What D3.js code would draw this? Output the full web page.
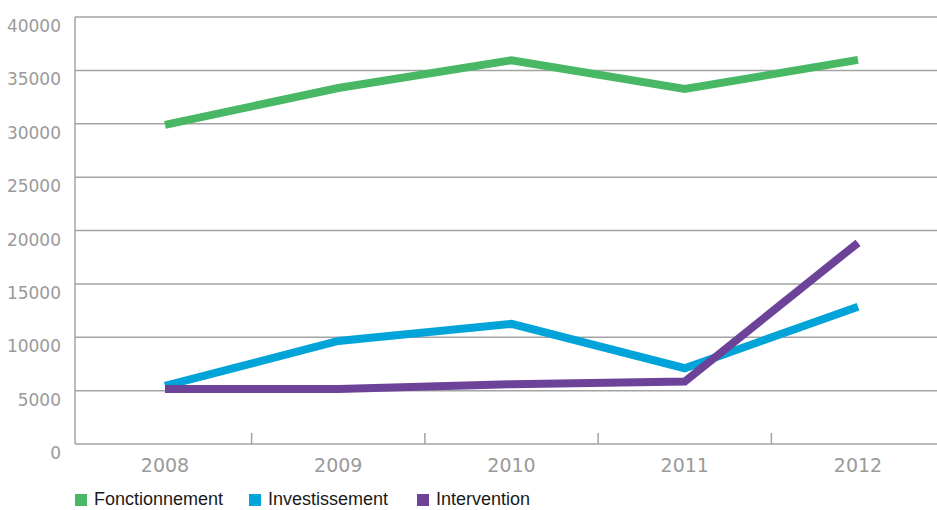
<!DOCTYPE html>
<html><head><meta charset="utf-8">
<script src="https://cdn.jsdelivr.net/npm/d3@7"></script>
<style>body{margin:0;background:#fff}svg{display:block}</style>
</head><body><svg id="c" width="937" height="510"></svg>
<script>
const years = ["2008","2009","2010","2011","2012"];
const fonctionnement = [29900, 33350, 35950, 33250, 35980];
const investissement = [5450, 9650, 11250, 7100, 12850];
const intervention = [5150, 5150, 5600, 5850, 18850];
const seriesNames = ["Fonctionnement","Investissement","Intervention"];
const colors = ["#48b864","#00a4d9","#6d439a"];
const yTicks = [0,5000,10000,15000,20000,25000,30000,35000,40000];

(function(){
const svg = d3.select("#c");
const mLeft = 75, mRight = 937, mTop = 17, mBottom = 444;
const x = d3.scalePoint().domain(years).range([165, 858]);
const step = x.step();
const y = d3.scaleLinear().domain([0,40000]).range([mBottom, mTop]);

svg.append("g").selectAll("line").data(yTicks.filter(d=>d>0)).join("line")
  .attr("x1", mLeft).attr("x2", mRight).attr("y1", d=>y(d)).attr("y2", d=>y(d))
  .attr("stroke","#a3a3a3").attr("stroke-width",1.5);
svg.append("line").attr("x1",mLeft).attr("x2",mLeft).attr("y1",mTop).attr("y2",mBottom).attr("stroke","#a3a3a3").attr("stroke-width",1.5);
svg.append("line").attr("x1",mLeft).attr("x2",mRight).attr("y1",mBottom).attr("y2",mBottom).attr("stroke","#a3a3a3").attr("stroke-width",1.5);
svg.append("g").selectAll("line").data(years.slice(1)).join("line")
  .attr("x1", d=>x(d)-step/2).attr("x2", d=>x(d)-step/2).attr("y1", mBottom-11).attr("y2", mBottom)
  .attr("stroke","#a3a3a3").attr("stroke-width",1.5);

svg.append("g").selectAll("text").data(yTicks).join("text")
  .attr("x", 61).attr("y", d=>y(d)+15).attr("text-anchor","end")
  .attr("font-family","'DejaVu Sans', sans-serif").attr("font-size",17).attr("fill","#9a9a9a")
  .text(d=>d);
svg.append("g").selectAll("text").data(years).join("text")
  .attr("x", d=>x(d)).attr("y", 472).attr("text-anchor","middle")
  .attr("font-family","'DejaVu Sans', sans-serif").attr("font-size",19).attr("fill","#9a9a9a")
  .text(d=>d);

const data = [fonctionnement, investissement, intervention];
const line = d3.line().x((d,i)=>x(years[i])).y(d=>y(d));
svg.append("g").selectAll("path").data(data).join("path")
  .attr("d", line).attr("fill","none")
  .attr("stroke",(d,i)=>colors[i]).attr("stroke-width",8).attr("stroke-linejoin","miter");

const legX = [75, 249, 417];
const lg = svg.append("g").selectAll("g").data(seriesNames).join("g")
  .attr("transform",(d,i)=>`translate(${legX[i]},0)`);
lg.append("rect").attr("x",0).attr("y",494).attr("width",12).attr("height",12).attr("fill",(d,i)=>colors[i]);
lg.append("text").attr("x",19).attr("y",505)
  .attr("font-family","'Liberation Sans', sans-serif").attr("font-size",18).attr("fill","#1a1a1a")
  .text(d=>d);
})();
</script></body></html>
